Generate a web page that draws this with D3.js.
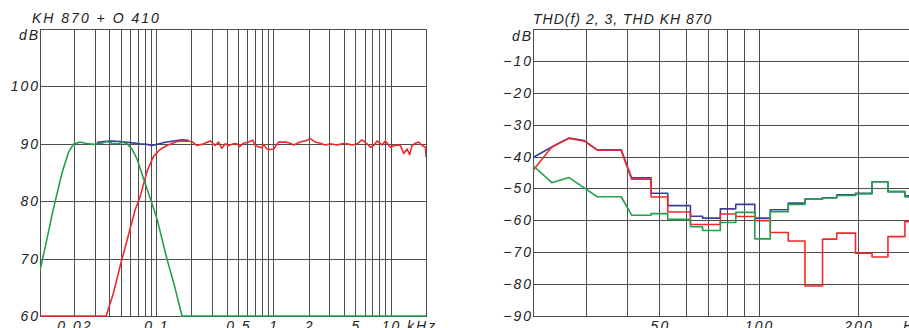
<!DOCTYPE html>
<html>
<head>
<meta charset="utf-8">
<script src="https://cdn.jsdelivr.net/npm/d3@7"></script>
<style>
  body { margin: 0; background: #fff; }
  svg { display: block; }
  text { font-family: 'Liberation Sans', Arial, sans-serif; font-style: italic; font-size: 14px; fill: #222; letter-spacing: 2px; }
</style>
</head>
<body>
<svg width="909" height="328"></svg>
<script>
var svg = d3.select('svg');

// ---- left chart: frequency response (kHz, dB)
var respTicksY = [60, 70, 80, 90, 100];
var respGridF = [0.02, 0.03, 0.04, 0.05, 0.06, 0.07, 0.08, 0.09, 0.1,
                 0.2, 0.3, 0.4, 0.5, 0.6, 0.7, 0.8, 0.9, 1,
                 2, 3, 4, 5, 6, 7, 8, 9, 10];
var respLabels = [{f: 0.02, t: '0.02'}, {f: 0.1, t: '0.1'}, {f: 0.5, t: '0.5'},
                  {f: 1, t: '1'}, {f: 2, t: '2'}, {f: 5, t: '5'}];

var sumCurve = [[0.0314,90.2],[0.0358,90.4],[0.0422,90.5],[0.0496,90.4],[0.0604,90.2],
  [0.0735,90.0],[0.0838,89.9],[0.0925,89.7],[0.102,89.9],[0.116,90.2],[0.132,90.4],
  [0.167,90.7],[0.190,90.6]];

var wooferCurve = [[0.0103,67.9],[0.0116,72.7],[0.0133,78.4],[0.0159,85],[0.018,88.5],
  [0.0198,89.9],[0.0226,90.3],[0.025,90.1],[0.0294,89.9],[0.0346,90.1],[0.0382,90.4],
  [0.0422,90.1],[0.048,90.0],[0.0513,90.3],[0.0566,90.0],[0.0624,89.1],[0.0689,87.4],
  [0.0784,84.0],[0.0894,80.5],[0.102,77],[0.124,70],[0.143,65.5],[0.167,60],[20,60]];

var mainCurve = [[0.0103,60],[0.0377,60],[0.0435,64],[0.0503,69.2],[0.0584,74.1],
  [0.0666,78.5],[0.0735,80.8],[0.0838,85.1],[0.0954,87.8],[0.1088,89.0],[0.124,89.7],
  [0.151,90.4],[0.184,90.5],[0.203,90.4],[0.224,89.7],[0.255,90.0],[0.290,90.5],
  [0.320,89.7],[0.342,90.3],[0.365,89.2],[0.390,90.0],[0.416,89.7],[0.459,90.0],
  [0.490,90.0],[0.516,89.5],[0.558,90.1],[0.616,90.3],[0.671,90.6],[0.702,89.7],
  [0.750,89.5],[0.801,89.3],[0.827,89.9],[0.884,89.1],[0.943,89.0],[1.006,89.1],
  [1.110,90.3],[1.266,90.3],[1.396,90.1],[1.490,89.8],[1.699,90.3],[1.938,90.6],
  [2.067,90.9],[2.281,90.3],[2.516,90.1],[2.776,89.8],[3.061,90.0],[3.492,89.8],
  [3.853,90.0],[4.249,90.0],[4.687,89.8],[5.171,90.0],[5.704,90.7],[6.292,90.0],
  [6.714,89.4],[7.163,89.7],[7.657,90.5],[8.449,89.8],[9.012,90.5],[9.940,89.4],
  [10.97,89.8],[12.10,89.7],[12.91,88.3],[13.80,89.1],[14.52,88.1],[15.22,89.7],
  [16.24,90.1],[17.33,90.3],[18.52,89.7],[19.76,89.4],[20,87.7]];

// ---- right chart: distortion (Hz, dB)
var thdTicksY = [-90, -80, -70, -60, -50, -40, -30, -20, -10];
var thdGridF = [30, 40, 50, 60, 70, 80, 90, 100, 200, 300];
var thdLabels = [{f: 50, t: '50'}, {f: 100, t: '100'}, {f: 200, t: '200'}];

var thdLeadF = [20.7, 23.6, 26.6, 29.6, 32.4, 38.3];
var thdEdges = [41.2, 47.2, 53.0, 62.1, 67.6, 76.5, 85.2, 97.3, 108.4, 122.9,
                138.1, 156.1, 172.3, 196.5, 220.5, 246.4, 277.4, 310];

var thdSumLead = [-40.3, -37.0, -34.2, -35.0, -37.9, -37.9];
var thdSumBins = [-46.7, -51.5, -55.4, -58.7, -59.3, -56.4, -55.0, -59.3, -56.7,
                  -54.6, -53.3, -52.9, -52.0, -51.5, -47.9, -51.0, -52.3];
var thd2Lead = [-44.4, -37.0, -34.3, -35.1, -38.0, -38.0];
var thd2Bins = [-47.1, -52.7, -57.4, -61.3, -61.3, -58.0, -58.8, -60.1, -63.8,
                -66.5, -80.6, -65.9, -64.0, -70.3, -71.5, -65.1, -60.4];
var thd3Lead = [-42.8, -48.2, -46.6, -49.8, -52.6, -52.6];
var thd3Bins = [-58.4, -57.9, -59.7, -62.0, -63.2, -60.7, -57.5, -65.8, -57.3,
                -55.0, -53.4, -53.0, -52.2, -51.7, -47.9, -51.0, -52.7];

var gridColor = '#4d4d4d';
var colBlue = '#3a3f9c', colRed = '#ee2a2a', colGreen = '#23a04c';

function crisp(v) { return Math.round(v) + 0.5; }

function drawFrame(g, x, y, yTicks, gridF, left, right, top, bottom, id) {
  g.selectAll('.hg')
  .data(yTicks)
  .enter()
  .append('line')
  .attr('x1', left).attr('x2', right)
  .attr('y1', function(d){ return crisp(y(d)); })
  .attr('y2', function(d){ return crisp(y(d)); })
  .attr('stroke', gridColor);

  g.selectAll('.vg')
  .data(gridF)
  .enter()
  .append('line')
  .attr('x1', function(d){ return crisp(x(d)); })
  .attr('x2', function(d){ return crisp(x(d)); })
  .attr('y1', top).attr('y2', bottom)
  .attr('stroke', gridColor);

  g.append('rect')
  .attr('x', crisp(left)).attr('y', crisp(top))
  .attr('width', Math.round(right - left)).attr('height', Math.round(bottom - top))
  .attr('fill', 'none')
  .attr('stroke', gridColor);

  g.append('clipPath').attr('id', id)
  .append('rect')
  .attr('x', left).attr('y', top - 2)
  .attr('width', right - left).attr('height', bottom - top + 4);
}

function drawCurve(g, pts, x, y, color, id) {
  var line = d3.line()
  .x(function(d){ return x(d[0]); })
  .y(function(d){ return y(d[1]); });
  g.append('path')
  .attr('d', line(pts))
  .attr('clip-path', 'url(#' + id + ')')
  .attr('fill', 'none')
  .attr('stroke', color)
  .attr('stroke-width', 1.6)
  .attr('stroke-linejoin', 'round');
}

// ===== left chart
var xL = d3.scaleLog().domain([0.0103, 20]).range([40, 426]);
var yL = d3.scaleLinear().domain([60, 110]).range([316, 29]);
var gL = svg.append('g');

drawFrame(gL, xL, yL, respTicksY, respGridF, 40, 426, 29, 316, 'clipL');

drawCurve(gL, sumCurve, xL, yL, colBlue, 'clipL');
drawCurve(gL, mainCurve, xL, yL, colRed, 'clipL');
drawCurve(gL, wooferCurve, xL, yL, colGreen, 'clipL');

gL.append('text').attr('x', 32).attr('y', 23).text('KH 870 + O 410');
gL.append('text').attr('x', 40).attr('y', 40).attr('text-anchor', 'end').text('dB');

gL.selectAll('.yl')
.data(respTicksY)
.enter()
.append('text')
.attr('x', 40)
.attr('y', function(d){ return yL(d); })
.attr('dy', '0.36em')
.attr('text-anchor', 'end')
.text(function(d){ return d; });

gL.selectAll('.xl')
.data(respLabels)
.enter()
.append('text')
.attr('x', function(d){ return xL(d.f) + 1; })
.attr('y', 331)
.attr('text-anchor', 'middle')
.text(function(d){ return d.t; });

gL.append('text').attr('x', xL(10) - 9).attr('y', 331).text('10 kHz');

// ===== right chart
var xR = d3.scaleLog().domain([20.7, 306]).range([533, 919]);
var yR = d3.scaleLinear().domain([-90, 0]).range([316, 29]);
var gR = svg.append('g');

drawFrame(gR, xR, yR, thdTicksY, thdGridF, 533, 919, 29, 316, 'clipR');

function thdPoints(lead, bins) {
  var pts = thdLeadF.map(function(f, i){ return [f, lead[i]]; });
  bins.forEach(function(v, i){
    pts.push([thdEdges[i], v]);
    pts.push([thdEdges[i + 1], v]);
  });
  return pts;
}

drawCurve(gR, thdPoints(thdSumLead, thdSumBins), xR, yR, colBlue, 'clipR');
drawCurve(gR, thdPoints(thd2Lead, thd2Bins), xR, yR, colRed, 'clipR');
drawCurve(gR, thdPoints(thd3Lead, thd3Bins), xR, yR, colGreen, 'clipR');

gR.append('text').attr('x', 533).attr('y', 24)
.style('letter-spacing', '1px')
.text('THD(f) 2, 3, THD KH 870');
gR.append('text').attr('x', 533).attr('y', 41).attr('text-anchor', 'end').text('dB');

gR.selectAll('.yl')
.data(thdTicksY)
.enter()
.append('text')
.attr('x', 533)
.attr('y', function(d){ return yR(d); })
.attr('dy', '0.36em')
.attr('text-anchor', 'end')
.text(function(d){ return d < 0 ? '\u2212' + Math.abs(d) : d; });

gR.selectAll('.xl')
.data(thdLabels)
.enter()
.append('text')
.attr('x', function(d){ return xR(d.f) + 1; })
.attr('y', 331)
.attr('text-anchor', 'middle')
.text(function(d){ return d.t; });

gR.append('text').attr('x', 903).attr('y', 331).text('Hz');
</script>
</body>
</html>
